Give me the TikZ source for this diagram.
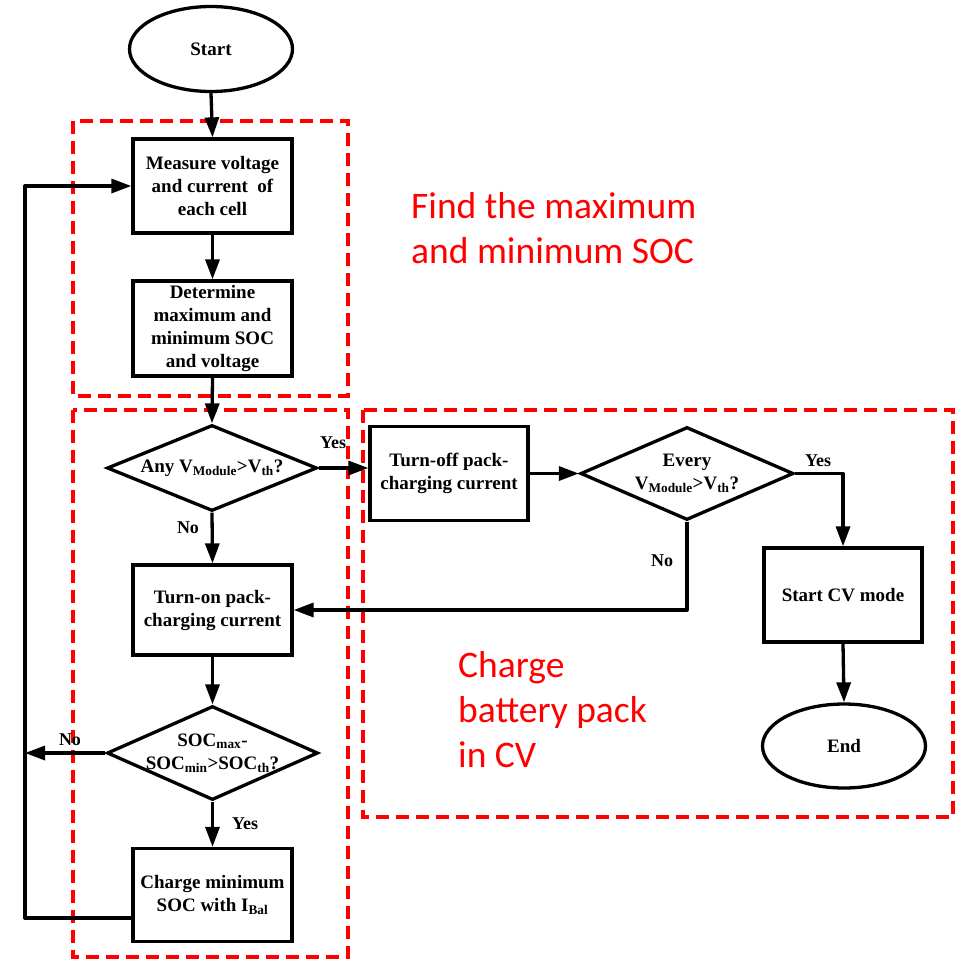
\documentclass[tikz,border=0pt]{standalone}
\usepackage{fontspec}
\setmainfont{Liberation Serif}
\newfontfamily\calfont{Carlito}
\usetikzlibrary{shapes.geometric,arrows.meta,calc}
\begin{document}
\begin{tikzpicture}[x=1pt,y=-1pt,
  conn/.style={line width=3.3pt,line join=round,-{Triangle[length=20pt,width=14pt]}},
  boxnode/.style={draw,line width=3.3pt,rectangle,inner sep=0pt,align=center,
    font=\fontsize{19}{23}\selectfont\bfseries},
  ovalnode/.style={draw,line width=3.3pt,ellipse,inner sep=0pt,
    minimum width=163pt,minimum height=85pt,font=\fontsize{19}{22}\selectfont\bfseries},
  dianode/.style={draw,line width=3.3pt,diamond,inner sep=0pt},
  txt/.style={align=center,inner sep=0pt,font=\fontsize{19}{23}\selectfont\bfseries},
  lbl/.style={inner sep=0pt,font=\fontsize{18}{20}\selectfont\bfseries},
  redbox/.style={draw=red,line width=4pt,dash pattern=on 13pt off 7pt},
  redtxt/.style={text=red,align=left,inner sep=0pt,anchor=west,
    font=\calfont\fontsize{37.5}{45}\selectfont}
]
\path[use as bounding box,fill=white] (0,0) rectangle (963,962);

% red dashed regions
\draw[redbox] (73,121) rectangle (348,396);
\draw[redbox] (73,410) rectangle (348,957);
\draw[redbox] (363,410) rectangle (953,817);

% nodes
\node[ovalnode] (start) at (211,49) {Start};
\node[boxnode,minimum width=159pt,minimum height=94pt] (meas) at (212.5,186)
  {Measure voltage\\and current\ \ of\\each cell};
\node[boxnode,minimum width=159pt,minimum height=95pt] (det) at (212.5,328.5)
  {Determine\\maximum and\\minimum SOC\\and voltage};
\node[dianode,minimum width=210pt,minimum height=86pt] (d1) at (212,468) {};
\node[txt] at (d1) {Any V\textsubscript{Module}>V\textsubscript{th}?};
\node[boxnode,minimum width=158pt,minimum height=94pt] (toff) at (449,473.5)
  {Turn-off pack-\\charging current};
\node[dianode,minimum width=213pt,minimum height=93pt] (d2) at (687,473.5) {};
\node[txt] at (d2) {Every\\V\textsubscript{Module}>V\textsubscript{th}?};
\node[boxnode,minimum width=158pt,minimum height=94pt] (cv) at (843,595) {Start CV mode};
\node[ovalnode,minimum height=84pt] (end) at (844,746) {End};
\node[boxnode,minimum width=159pt,minimum height=90pt] (on) at (212.5,610)
  {Turn-on pack-\\charging current};
\node[dianode,minimum width=211pt,minimum height=94pt] (d3) at (212.5,753) {};
\node[txt] at (d3) {SOC\textsubscript{max}-\\SOC\textsubscript{min}>SOC\textsubscript{th}?};
\node[boxnode,minimum width=159pt,minimum height=93pt] (chg) at (212.5,895)
  {Charge minimum\\SOC with I\textsubscript{Bal}};

\coordinate (lft) at (25,753);
\coordinate (lbot) at (25,918);
\coordinate (ltop) at (25,186);

% connectors
\draw[conn] (start.south) -- (meas.north);
\draw[conn] (meas.south) -- (det.north);
\draw[conn] (det.south) -- (d1.north);
\draw[conn] (d1.east) -- (d1.east -| toff.west);
\draw[conn] (toff.east) -- (d2.west);
\draw[conn] (d2.east) -| (cv.north);
\draw[conn] (cv.south) -- (end.north);
\draw[conn] (d2.south) |- (on.east);
\draw[conn] (d1.south) -- (on.north);
\draw[conn] (on.south) -- (d3.north);
\draw[conn] (d3.south) -- (chg.north);
\draw[conn] (d3.west) -- (lft);
\draw[conn] (chg.west |- lbot) -- (lbot) -- (ltop) -- (meas.west);

% labels
\node[lbl] at (333,443) {Yes};
\node[lbl] at (188,528) {No};
\node[lbl] at (818,461) {Yes};
\node[lbl] at (662,561) {No};
\node[lbl] at (70,740) {No};
\node[lbl] at (245,824) {Yes};

% red annotations
\node[redtxt] (t1) at (411,228) {Find the maximum\\and minimum SOC};
\node[redtxt] (t2) at (458,710) {Charge\\battery pack\\in CV};
\end{tikzpicture}
\end{document}
